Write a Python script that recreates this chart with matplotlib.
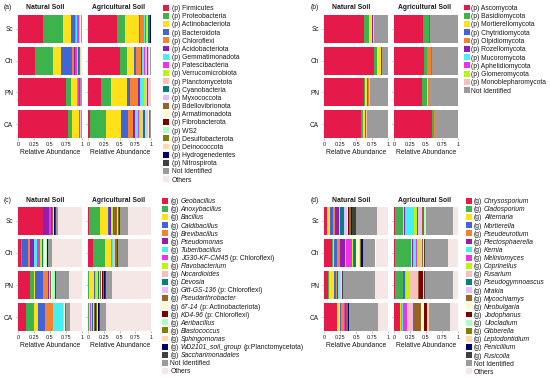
import matplotlib
matplotlib.use('Agg')
import matplotlib.pyplot as plt
from matplotlib.patches import Rectangle
import numpy as np

plt.rcParams['font.family'] = ['Liberation Sans', 'DejaVu Sans']

W, H = 550, 380
fig = plt.figure(figsize=(5.5, 3.8), dpi=100)
fig.patch.set_facecolor('white')

# ---------------- shared ----------------
sites = ['Sc', 'Ch', 'PN', 'CA']
soils = ['Natural Soil', 'Agricultural Soil']
x_ticks = [0, 0.25, 0.5, 0.75, 1]
x_tick_labels = ['0', '0.25', '0.5', '0.75', '1']

palette = ['#E6194B', '#3CB44B', '#FFE119', '#4363D8', '#F58231', '#911EB4',
           '#46F0F0', '#F032E6', '#BCF60C', '#FABEBE', '#008080', '#E6BEFF',
           '#9A6324', '#FFFAC8', '#800000', '#AAFFC3', '#808000', '#FFD8B1',
           '#000075', '#404040']
not_identified_color = '#9B9B9B'
others_color = '#F6E7E7'

# ---------------- (a) bacterial phyla ----------------
a_labels = ['(p) Firmicutes', '(p) Proteobacteria', '(p) Actinobacteriota', '(p) Bacteroidota',
            '(p) Chloroflexi', '(p) Acidobacteriota', '(p) Gemmatimonadota', '(p) Patescibacteria',
            '(p) Verrucomicrobiota', '(p) Planctomycetota', '(p) Cyanobacteria', '(p) Myxococcota',
            '(p) Bdellovibrionota', '(p) Armatimonadota', '(p) Fibrobacterota', '(p) WS2',
            '(p) Desulfobacterota', '(p) Deinococcota', '(p) Hydrogenedentes', '(p) Nitrospirota',
            'Not Identified', 'Others']
a_natural = [
    [0.39, 0.318, 0.12, 0.07, 0.01, 0.005, 0.005, 0.04, 0.005, 0.008, 0.002, 0.005, 0.002, 0.003, 0.001, 0.002, 0.002, 0.002, 0.001, 0.002, 0.004, 0.001],
    [0.27, 0.28, 0.13, 0.16, 0.035, 0.015, 0.01, 0.025, 0.01, 0.005, 0.015, 0.01, 0.005, 0.003, 0.002, 0.003, 0.003, 0.002, 0.002, 0.004, 0.006, 0.005],
    [0.76, 0.07, 0.10, 0.003, 0.01, 0.003, 0.002, 0.002, 0.002, 0.008, 0.002, 0.003, 0.002, 0.002, 0.002, 0.001, 0.002, 0.002, 0.001, 0.002, 0.02, 0.001],
    [0.79, 0.06, 0.10, 0.003, 0.008, 0.002, 0.002, 0.002, 0.002, 0.01, 0.002, 0.002, 0.002, 0.001, 0.002, 0.001, 0.001, 0.001, 0.001, 0.001, 0.006, 0.001],
]
a_agricultural = [
    [0.46, 0.12, 0.23, 0.01, 0.07, 0.005, 0.015, 0.01, 0.01, 0.015, 0.035, 0.005, 0.002, 0.001, 0.001, 0.001, 0.001, 0.001, 0.001, 0.002, 0.004, 0.001],
    [0.505, 0.105, 0.12, 0.03, 0.075, 0.02, 0.03, 0.015, 0.025, 0.015, 0.02, 0.01, 0.005, 0.003, 0.002, 0.002, 0.003, 0.002, 0.001, 0.003, 0.006, 0.003],
    [0.20, 0.16, 0.26, 0.04, 0.13, 0.035, 0.06, 0.01, 0.025, 0.015, 0.015, 0.03, 0.004, 0.002, 0.002, 0.002, 0.002, 0.002, 0.001, 0.002, 0.002, 0.001],
    [0.03, 0.26, 0.23, 0.11, 0.085, 0.035, 0.05, 0.015, 0.035, 0.03, 0.03, 0.04, 0.01, 0.005, 0.005, 0.004, 0.005, 0.003, 0.003, 0.005, 0.007, 0.003],
]

# ---------------- (b) fungal phyla ----------------
b_labels = ['(p) Ascomycota', '(p) Basidiomycota', '(p) Mortierellomycota', '(p) Chytridiomycota',
            '(p) Olpidiomycota', '(p) Rozellomycota', '(p) Mucoromycota', '(p) Aphelidiomycota',
            '(p) Glomeromycota', '(p) Monoblepharomycota', 'Not Identified']
b_natural = [
    [0.62, 0.08, 0.04, 0.005, 0.004, 0.011, 0.003, 0.002, 0.002, 0.003, 0.23],
    [0.78, 0.04, 0.06, 0.003, 0.01, 0.002, 0.002, 0.001, 0.001, 0.001, 0.10],
    [0.62, 0.02, 0.025, 0.025, 0.005, 0.003, 0.002, 0.002, 0.005, 0.003, 0.29],
    [0.57, 0.03, 0.03, 0.015, 0.003, 0.002, 0.002, 0.002, 0.004, 0.002, 0.34],
]
b_agricultural = [
    [0.45, 0.10, 0.005, 0.002, 0.003, 0.002, 0.002, 0.001, 0.003, 0.002, 0.43],
    [0.47, 0.04, 0.005, 0.003, 0.06, 0.002, 0.002, 0.01, 0.003, 0.005, 0.40],
    [0.43, 0.08, 0.025, 0.002, 0.003, 0.002, 0.002, 0.001, 0.003, 0.002, 0.45],
    [0.60, 0.02, 0.01, 0.002, 0.02, 0.002, 0.002, 0.001, 0.002, 0.001, 0.34],
]

# ---------------- (c) bacterial genera ----------------
c_labels = ['(g) Geobacillus', '(g) Anoxybacillus', '(g) Bacillus', '(g) Caldibacillus',
            '(g) Brevibacillus', '(g) Pseudomonas', '(g) Tuberibacillus',
            '(g) JG30-KF-CM45 (p: Chloroflexi)', '(g) Flavobacterium', '(g) Nocardioides',
            '(g) Devosia', '(g) Gitt-GS-136 (p: Chloroflexi)', '(g) Pseudarthrobacter',
            '(g) 67-14 (p: Actinobacteriota)', '(g) KD4-96 (p: Chloroflexi)', '(g) Aeribacillus',
            '(g) Blastococcus', '(g) Sphingomonas', '(g) WD2101_soil_group (p:Planctomycetota)',
            '(g) Saccharimonadales', 'Not Identified', 'Others']
c_natural = [
    [0.385, 0.0, 0.005, 0.0, 0.0, 0.095, 0.003, 0.02, 0.005, 0.01, 0.01, 0.005, 0.005, 0.003, 0.003, 0.003, 0.003, 0.003, 0.025, 0.01, 0.04, 0.367],
    [0.05, 0.005, 0.01, 0.09, 0.035, 0.06, 0.04, 0.055, 0.01, 0.02, 0.01, 0.015, 0.01, 0.025, 0.005, 0.01, 0.005, 0.005, 0.005, 0.01, 0.055, 0.47],
    [0.18, 0.07, 0.01, 0.125, 0.09, 0.005, 0.003, 0.002, 0.005, 0.005, 0.005, 0.005, 0.015, 0.005, 0.003, 0.05, 0.003, 0.003, 0.002, 0.004, 0.205, 0.205],
    [0.12, 0.125, 0.07, 0.10, 0.125, 0.005, 0.155, 0.003, 0.005, 0.005, 0.005, 0.003, 0.005, 0.005, 0.002, 0.005, 0.01, 0.002, 0.002, 0.008, 0.05, 0.19],
]
c_agricultural = [
    [0.015, 0.17, 0.135, 0.005, 0.01, 0.025, 0.005, 0.005, 0.02, 0.005, 0.01, 0.005, 0.04, 0.01, 0.005, 0.005, 0.015, 0.005, 0.003, 0.012, 0.125, 0.37],
    [0.075, 0.19, 0.10, 0.005, 0.01, 0.005, 0.005, 0.005, 0.02, 0.005, 0.005, 0.005, 0.01, 0.003, 0.003, 0.003, 0.005, 0.003, 0.003, 0.01, 0.16, 0.37],
    [0.003, 0.003, 0.09, 0.005, 0.005, 0.005, 0.005, 0.003, 0.03, 0.01, 0.015, 0.01, 0.02, 0.01, 0.015, 0.01, 0.01, 0.005, 0.01, 0.015, 0.10, 0.626],
    [0.003, 0.003, 0.015, 0.003, 0.003, 0.003, 0.005, 0.01, 0.01, 0.005, 0.015, 0.01, 0.015, 0.005, 0.015, 0.01, 0.015, 0.005, 0.015, 0.015, 0.10, 0.72],
]

# ---------------- (d) fungal genera ----------------
d_labels = ['(g) Chrysosporium', '(g) Cladosporium', '(g) Alternaria', '(g) Mortierella',
            '(g) Pseudeurotium', '(g) Plectosphaerella', '(g) Kernia', '(g) Meliniomyces',
            '(g) Coprinellus', '(g) Fusarium', '(g) Pseudogymnoascus', '(g) Mrakia',
            '(g) Mycochlamys', '(g) Neobulgaria', '(g) Jodophanus', '(g) Ulocladium',
            '(g) Gibberella', '(g) Leptodontidium', '(g) Penicillium', '(g) Fusicolla',
            'Not Identified', 'Others']
d_natural = [
    [0.04, 0.005, 0.04, 0.05, 0.03, 0.06, 0.005, 0.005, 0.005, 0.01, 0.05, 0.05, 0.005, 0.02, 0.005, 0.005, 0.03, 0.005, 0.02, 0.05, 0.34, 0.17],
    [0.12, 0.02, 0.01, 0.05, 0.04, 0.09, 0.005, 0.10, 0.01, 0.005, 0.04, 0.005, 0.005, 0.04, 0.005, 0.005, 0.02, 0.005, 0.025, 0.01, 0.19, 0.20],
    [0.06, 0.01, 0.08, 0.035, 0.01, 0.025, 0.005, 0.01, 0.005, 0.005, 0.005, 0.005, 0.003, 0.003, 0.002, 0.012, 0.003, 0.002, 0.002, 0.003, 0.50, 0.21],
    [0.20, 0.005, 0.04, 0.02, 0.04, 0.005, 0.005, 0.005, 0.005, 0.005, 0.01, 0.005, 0.003, 0.005, 0.002, 0.005, 0.003, 0.003, 0.015, 0.005, 0.45, 0.17],
]
d_agricultural = [
    [0.005, 0.14, 0.005, 0.005, 0.005, 0.005, 0.14, 0.01, 0.04, 0.01, 0.005, 0.06, 0.035, 0.005, 0.005, 0.005, 0.01, 0.005, 0.005, 0.005, 0.425, 0.07],
    [0.015, 0.255, 0.005, 0.005, 0.005, 0.005, 0.06, 0.01, 0.04, 0.015, 0.005, 0.01, 0.015, 0.005, 0.01, 0.003, 0.005, 0.003, 0.003, 0.006, 0.37, 0.15],
    [0.005, 0.13, 0.005, 0.025, 0.005, 0.005, 0.01, 0.005, 0.065, 0.10, 0.005, 0.01, 0.02, 0.005, 0.065, 0.005, 0.005, 0.003, 0.002, 0.005, 0.44, 0.08],
    [0.09, 0.005, 0.005, 0.005, 0.015, 0.005, 0.005, 0.065, 0.005, 0.08, 0.005, 0.01, 0.125, 0.05, 0.045, 0.01, 0.01, 0.005, 0.005, 0.005, 0.33, 0.12],
]

colors22 = palette + [not_identified_color, others_color]
colors11 = palette[:10] + [not_identified_color]

# ---------------- helpers ----------------
FS = 4.85
TXT = '#1a1a1a'


def fx(px):
    return px / W


def fy(py):
    return 1 - py / H


def make_axes(x0, x1, y0, y1):
    return fig.add_axes([fx(x0), fy(y1), (x1 - x0) / W, (y1 - y0) / H])


def draw_bars(ax, values, colors, show_ylabels):
    vals = np.array(values, dtype=float)
    ypos = np.arange(len(sites))
    left = np.zeros(len(sites))
    for j in range(vals.shape[1]):
        ax.barh(ypos, vals[:, j], left=left, height=0.875, color=colors[j], linewidth=0)
        left += vals[:, j]
    ax.set_xlim(0, 1)
    ax.set_ylim(3.4375, -0.4375)
    for s in ax.spines.values():
        s.set_visible(False)
    ax.set_xticks(x_ticks)
    ax.set_xticklabels(x_tick_labels, fontsize=3.9, color=TXT)
    ax.tick_params(axis='x', length=1.5, width=0.4, pad=1.2, color='#888888')
    ax.set_yticks(ypos)
    ax.set_yticklabels(sites if show_ylabels else [], fontsize=4.7, color=TXT)
    ax.tick_params(axis='y', length=1.5, width=0.4, pad=2.2, color='#888888')
    ax.set_xlabel('Relative Abundance', fontsize=FS, labelpad=1.7, color=TXT)


def split_label(lab, italic):
    if not italic or not lab.startswith('(g) '):
        return [(lab, False)]
    rest = lab[4:]
    segs = [('(g)', False)]
    if ' (p' in rest:
        name, tail = rest.split(' (p', 1)
        segs += [(name, True), ('(p' + tail, False)]
    else:
        segs.append((rest, True))
    return segs


def draw_legend(x_patch, x_text, y_first, pitch, labels, colors, italic):
    renderer = fig.canvas.get_renderer()
    em = FS * 100 / 72
    sw, sh = 6.2, 5.8
    for i, (lab, col) in enumerate(zip(labels, colors)):
        yc = y_first + i * pitch
        fig.add_artist(Rectangle((fx(x_patch), fy(yc + sh / 2)), sw / W, sh / H,
                                 transform=fig.transFigure, facecolor=col, edgecolor='none'))
        x = x_text
        yb = yc + 0.36 * em
        for txt, it in split_label(lab, italic):
            t = fig.text(fx(x), fy(yb), txt, fontsize=FS, style='italic' if it else 'normal',
                         va='baseline', ha='left', color=TXT)
            bb = t.get_window_extent(renderer)
            x = bb.x1 + 0.278 * em


def draw_panel(letter, letter_x, title_y, nat_x, agr_x, ax_y, title_lefts,
               nat_vals, agr_vals, colors, labels, leg, italic):
    fig.text(fx(letter_x), fy(title_y), letter, fontsize=FS, va='center', ha='left', color=TXT)
    ax1 = make_axes(nat_x[0], nat_x[1], ax_y[0], ax_y[1])
    draw_bars(ax1, nat_vals, colors, True)
    ax2 = make_axes(agr_x[0], agr_x[1], ax_y[0], ax_y[1])
    draw_bars(ax2, agr_vals, colors, False)
    for soil, tl in zip(soils, title_lefts):
        fig.text(fx(tl), fy(title_y), soil, fontsize=FS, fontweight='bold',
                 va='center', ha='left', color=TXT)
    draw_legend(leg[0], leg[1], leg[2], leg[3], labels, colors, italic)


draw_panel('(a)', 4.0, 7.6, (18.3, 81.7), (88.3, 151.0), (15.0, 138.0), (26.0, 92.0),
           a_natural, a_agricultural, colors22, a_labels, (163.0, 172.0, 7.6, 8.17), False)
draw_panel('(b)', 311.0, 7.6, (324.3, 388.3), (394.3, 457.7), (15.0, 138.0), (331.7, 397.7),
           b_natural, b_agricultural, colors11, b_labels, (464.0, 471.0, 7.5, 8.27), False)
draw_panel('(c)', 4.0, 200.3, (18.3, 81.7), (88.3, 151.0), (206.7, 331.3), (26.0, 92.3),
           c_natural, c_agricultural, colors22, c_labels, (161.5, 170.5, 200.8, 8.1), True)
draw_panel('(d)', 311.0, 200.3, (324.3, 388.3), (394.3, 457.7), (206.7, 331.3), (331.7, 397.7),
           d_natural, d_agricultural, colors22, d_labels, (466.0, 474.0, 200.8, 8.12), True)

fig.savefig('out.png', dpi=100, facecolor='white')
